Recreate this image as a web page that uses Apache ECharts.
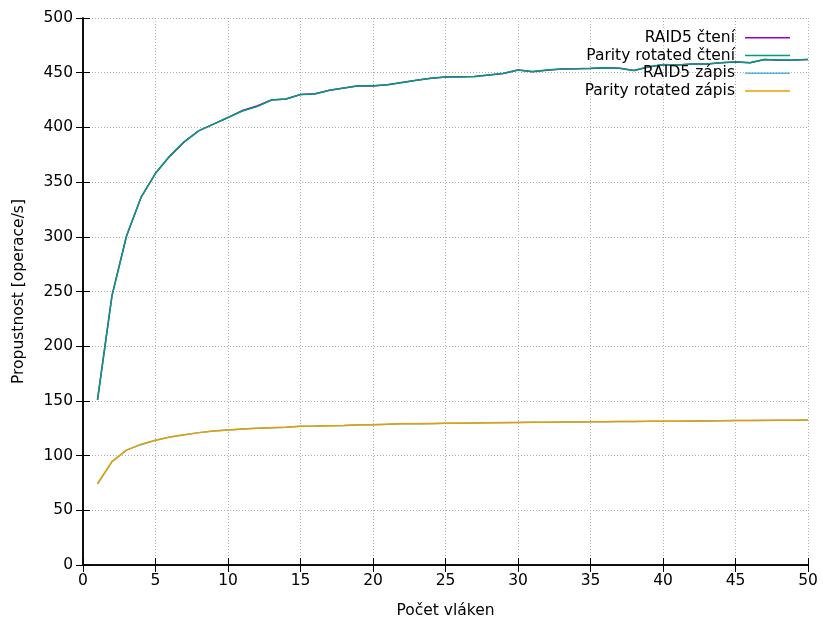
<!DOCTYPE html>
<html><head><meta charset="utf-8">
<script src="https://cdn.jsdelivr.net/npm/echarts@6/dist/echarts.min.js"></script>
<style>html,body{margin:0;padding:0;background:#fff}#c{width:823px;height:620px}</style>
</head><body><div id="c"></div>
<script>
const threads = [1,2,3,4,5,6,7,8,9,10,11,12,13,14,15,16,17,18,19,20,21,22,23,24,25,26,27,28,29,30,31,32,33,34,35,36,37,38,39,40,41,42,43,44,45,46,47,48,49,50];
const raid5Read = [151,246.5,300.5,336,358,374,387,397,403,409,415.5,419.5,425,426,430,430.8,434,436,438,437.8,439,441,443,445,446,446.3,446.5,448,449.3,452.5,450.8,452.3,453.4,453.5,453.9,454.6,454,452,455.3,457.3,457,458,458,459,459.8,459,462,461.3,461.5,462];
const parityRead = [151,246,301,336,358,374,387,397,403,409,415,419,425,426,430,430.5,434,436,438,438,439,441,443,445,446,446,446.5,448,449.5,452.5,451,452.5,453.4,453.6,454,454.6,454,452,455.5,457.5,457,458,458,459,460,459,462,461.5,461.5,462];
const raid5Write = [74,94.5,105,110,114,117,119,121,122.5,123.4,124.3,125,125.5,126,126.8,127,127.3,127.6,128,128.3,128.6,129,129.1,129.2,129.5,129.6,129.8,130,130.1,130.3,130.4,130.5,130.6,130.8,131,131,131.1,131.2,131.3,131.5,131.5,131.6,131.7,131.8,132,132,132.1,132.2,132.3,132.5];
const parityWrite = [74.5,94.5,105,110.5,114,117,119,121,122.5,123.4,124.3,125,125.5,126,126.8,127,127.3,127.6,128.1,128.3,128.7,129,129.1,129.3,129.5,129.6,129.8,130,130.2,130.3,130.4,130.5,130.7,130.8,131,131,131.1,131.2,131.4,131.5,131.5,131.6,131.7,131.8,132,132,132.2,132.2,132.3,132.5];
const xTicks = [0,50];
const yRange = [0,500];

const font = 'DejaVu Sans';
const fs = 15.5;
const dotted = {show:true, lineStyle:{color:'#b0b0b0', type:[1,2], width:1}};
function pairs(v){ return threads.map((t,i)=>[t,v[i]]); }
function ser(name, v, color){
  return {name, type:'line', data:pairs(v), showSymbol:false, symbol:'none',
    lineStyle:{color, width:1.5}, itemStyle:{color}, animation:false};
}
const chart = echarts.init(document.getElementById('c'), null, {renderer:'canvas'});
chart.setOption({
  animation:false,
  textStyle:{fontFamily:font},
  grid:{left:83, right:15, top:18, bottom:55, show:false, containLabel:false, outerBoundsMode:'none'},
  legend:{
    orient:'vertical', right:28, top:24, align:'right', itemGap:0,
    itemWidth:45, itemHeight:1.5, icon:'rect',
    textStyle:{fontFamily:font, fontSize:fs, color:'#000', lineHeight:17.7, padding:[0,5,0,0]},
    data:['RAID5 čtení','Parity rotated čtení','RAID5 zápis','Parity rotated zápis']
  },
  xAxis:[{
    type:'value', min:xTicks[0], max:xTicks[1], interval:5,
    name:'Počet vláken', nameLocation:'middle', nameGap:38,
    nameTextStyle:{fontFamily:font, fontSize:fs, color:'#000'},
    axisLine:{show:true, onZero:false, lineStyle:{color:'#000', width:1.5}},
    axisTick:{show:true, inside:true, length:7, lineStyle:{color:'#000'}},
    axisLabel:{fontFamily:font, fontSize:fs, color:'#000', margin:8},
    splitLine:dotted
  },{
    type:'value', position:'top', min:xTicks[0], max:xTicks[1], interval:5,
    axisLine:{show:true, lineStyle:{color:'#000', width:1.5}},
    axisTick:{show:true, inside:true, length:7, lineStyle:{color:'#000'}},
    axisLabel:{show:false}, splitLine:{show:false}
  }],
  yAxis:[{
    type:'value', min:yRange[0], max:yRange[1], interval:50,
    name:'Propustnost [operace/s]', nameLocation:'middle', nameGap:56, nameRotate:90,
    nameTextStyle:{fontFamily:font, fontSize:fs, color:'#000'},
    axisLine:{show:true, lineStyle:{color:'#000', width:1.5}},
    axisTick:{show:true, inside:true, length:7, lineStyle:{color:'#000'}},
    axisLabel:{fontFamily:font, fontSize:fs, color:'#000', margin:10},
    splitLine:dotted
  },{
    type:'value', position:'right', min:yRange[0], max:yRange[1], interval:50,
    axisLine:{show:true, lineStyle:{color:'#000', width:1.5}},
    axisTick:{show:true, inside:true, length:7, lineStyle:{color:'#000'}},
    axisLabel:{show:false}, splitLine:{show:false}
  }],
  series:[
    ser('RAID5 čtení', raid5Read, '#9400d3'),
    ser('Parity rotated čtení', parityRead, '#009e73'),
    ser('RAID5 zápis', raid5Write, '#56b4e9'),
    ser('Parity rotated zápis', parityWrite, '#e69f00')
  ]
});
</script></body></html>
